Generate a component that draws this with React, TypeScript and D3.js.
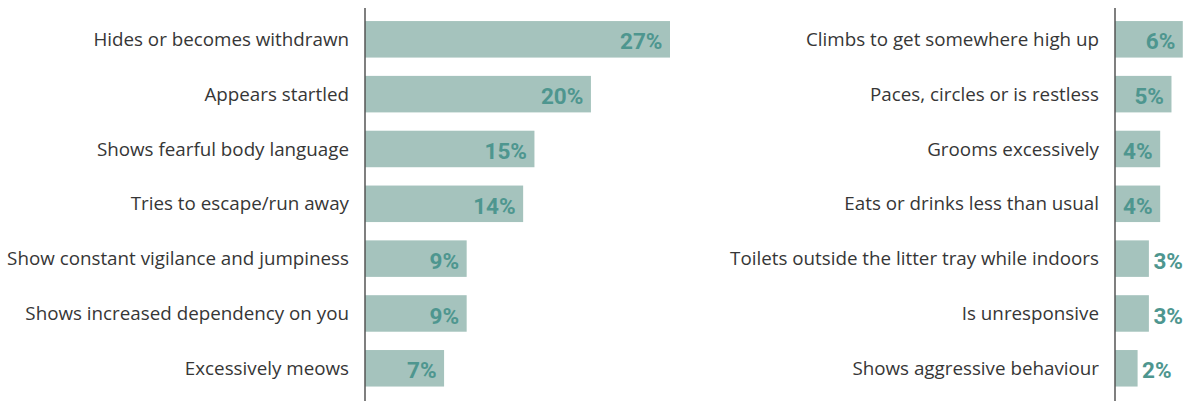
import React from "react";
import * as d3 from "d3";

const leftCategories = [
  "Hides or becomes withdrawn",
  "Appears startled",
  "Shows fearful body language",
  "Tries to escape/run away",
  "Show constant vigilance and jumpiness",
  "Shows increased dependency on you",
  "Excessively meows",
];
const leftValues = [27, 20, 15, 14, 9, 9, 7];

const rightCategories = [
  "Climbs to get somewhere high up",
  "Paces, circles or is restless",
  "Grooms excessively",
  "Eats or drinks less than usual",
  "Toilets outside the litter tray while indoors",
  "Is unresponsive",
  "Shows aggressive behaviour",
];
const rightValues = [6, 5, 4, 4, 3, 3, 2];

const W = 1190;
const H = 401;
const BAR = "#a5c3bd";
const VAL = "#4e968f";
const LABEL = "#363636";

function Panel({ cats, vals, axisX, minInside }: { cats: string[]; vals: number[]; axisX: number; minInside: number }) {
  const y = d3.scaleBand<string>().domain(cats).range([11.9, 395.7]).paddingInner(0.334).paddingOuter(0.167);
  const x = d3.scaleLinear().domain([0, 27]).range([axisX, axisX + 305]);
  return (
    <g>
      {cats.map((c, i) => {
        const v = vals[i];
        const y0 = y(c)!;
        const cy = y0 + y.bandwidth() / 2;
        const inside = v >= minInside;
        return (
          <g key={c}>
            <rect x={x(0)} y={y0} width={x(v) - x(0)} height={y.bandwidth()} fill={BAR} />
            <text x={axisX - 16} y={cy} dy="0.35em" textAnchor="end" fontFamily="'Open Sans', sans-serif" fontSize={18.8} fill={LABEL}>
              {c}
            </text>
            <text
              x={inside ? x(v) - 7.5 : x(v) + 4.5}
              y={cy + 2}
              dy="0.36em"
              textAnchor={inside ? "end" : "start"}
              fontFamily="Roboto, sans-serif"
              fontWeight={700}
              fontSize={22.5}
              fill={VAL}
            >
              {v}%
            </text>
          </g>
        );
      })}
      <line x1={axisX} x2={axisX} y1={8} y2={H} stroke="#555" strokeWidth={1.5} />
    </g>
  );
}

export default function App() {
  return (
    <svg width={W} height={H} style={{ position: "absolute", left: 0, top: 0 }}>
      <rect width={W} height={H} fill="#fff" />
      <Panel cats={leftCategories} vals={leftValues} axisX={365} minInside={4} />
      <Panel cats={rightCategories} vals={rightValues} axisX={1115} minInside={4} />
    </svg>
  );
}
